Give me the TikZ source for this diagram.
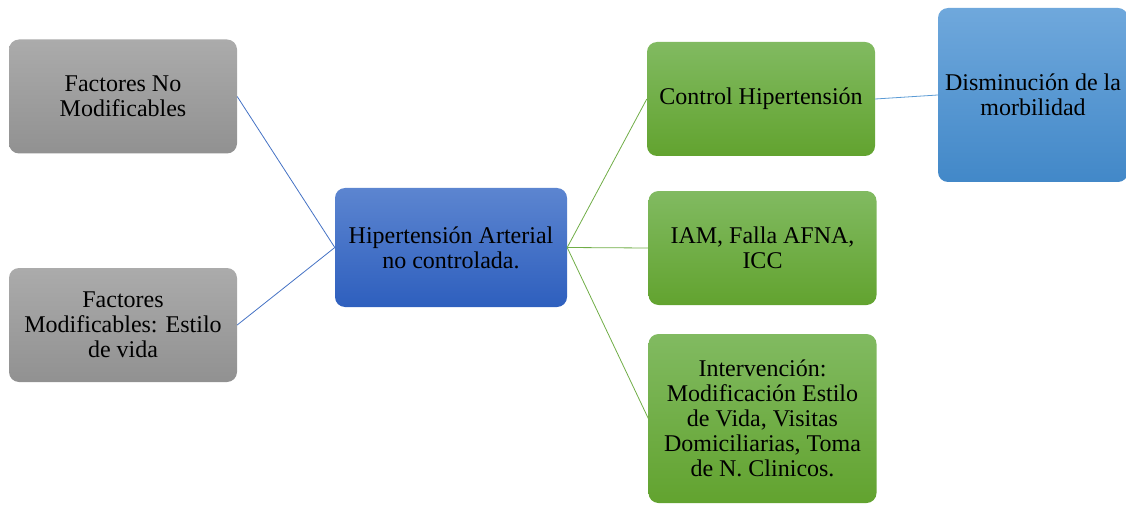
\documentclass[tikz,border=0pt]{standalone}
\usepackage{fontspec}
\setmainfont{Liberation Serif}
\usepackage{xcolor}
\usepackage{tikz}
\usetikzlibrary{positioning}
\definecolor{graytop}{RGB}{171,171,171}
\definecolor{graybot}{RGB}{145,145,145}
\definecolor{htatop}{RGB}{92,133,208}
\definecolor{htabot}{RGB}{46,95,190}
\definecolor{greentop}{RGB}{129,186,97}
\definecolor{greenbot}{RGB}{98,163,47}
\definecolor{morbtop}{RGB}{111,168,220}
\definecolor{morbbot}{RGB}{66,136,200}
\definecolor{linkblue}{RGB}{68,114,196}
\definecolor{linkgreen}{RGB}{112,173,71}
\definecolor{linklight}{RGB}{91,155,213}

\begin{document}
\begin{tikzpicture}[
    x=1pt, y=-1pt,
    box/.style={rounded corners=10pt, minimum width=228pt, minimum height=114pt, align=center, inner sep=2pt,
        font=\fontsize{24}{25}\selectfont},
    factor/.style={box, top color=graytop, bottom color=graybot},
    core/.style={box, minimum width=232pt, minimum height=119pt, top color=htatop, bottom color=htabot},
    effect/.style={box, top color=greentop, bottom color=greenbot},
    outcome/.style={box, minimum width=190pt, minimum height=174pt, top color=morbtop, bottom color=morbbot},
    link/.style={line width=0.8pt}
]
\useasboundingbox (0,0) rectangle (1126,505);
\begin{scope}
\clip (0,0) rectangle (1126,505);
\node[factor] (fnm) at (123,96.5) {Factores No\\Modificables};
\node[factor] (fm) at (123,325) {Factores\\Modificables: Estilo\\de vida};
\node[core] (hta) at (451,247.5) {Hipertensión Arterial\\no controlada.};
\node[effect] (ctrl) at (761,99) {Control Hipertensión};
\node[effect] (iam) at (762.5,248) {IAM, Falla AFNA,\\ICC};
\node[effect, minimum height=169pt] (interv) at (762.5,418.5) {Intervención:\\Modificación Estilo\\de Vida, Visitas\\Domiciliarias, Toma\\de N. Clinicos.};
\node[outcome] (morb) at (1033,95) {Disminución de la\\morbilidad};

\draw[link, linkblue] (fnm.east) -- (hta.west);
\draw[link, linkblue] (fm.east) -- (hta.west);
\draw[link, linkgreen] (hta.east) -- (ctrl.west);
\draw[link, linkgreen] (hta.east) -- (iam.west);
\draw[link, linkgreen] (hta.east) -- (interv.west);
\draw[link, linklight] (ctrl.east) -- (morb.west);
\end{scope}
\end{tikzpicture}
\end{document}
